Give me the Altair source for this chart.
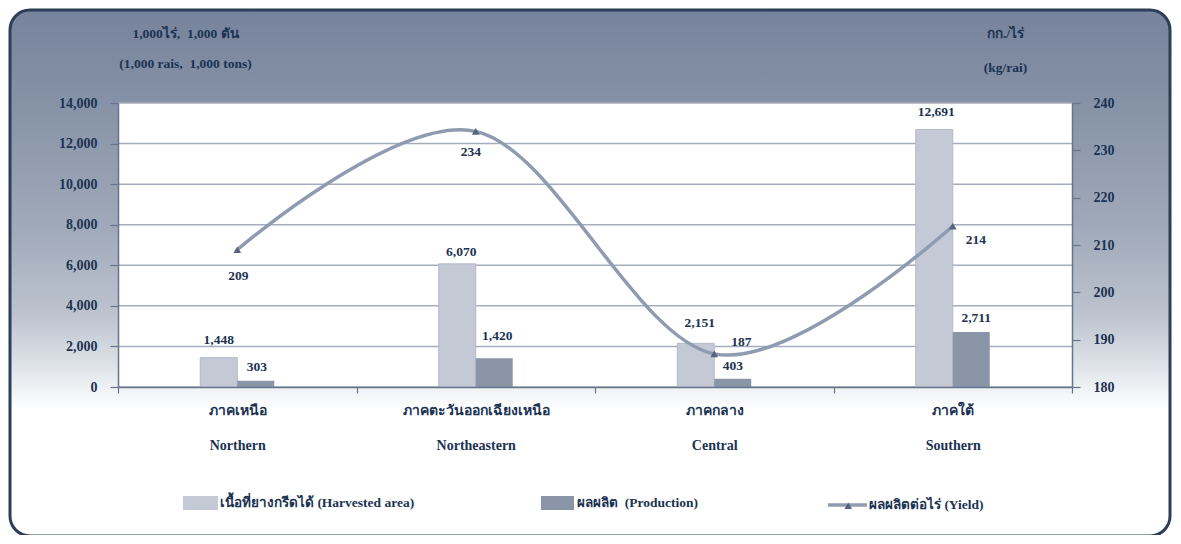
import altair as alt
import pandas as pd

# ---------------- data ----------------
regions_th = ["ภาคเหนือ", "ภาคตะวันออกเฉียงเหนือ", "ภาคกลาง", "ภาคใต้"]
regions_en = ["Northern", "Northeastern", "Central", "Southern"]
harvested_area = [1448, 6070, 2151, 12691]      # 1,000 rai
production = [303, 1420, 403, 2711]             # 1,000 tons
yield_kg = [209, 234, 187, 214]                 # kg/rai

left_ticks = [0, 2000, 4000, 6000, 8000, 10000, 12000, 14000]
right_ticks = [180, 190, 200, 210, 220, 230, 240]

NB = "\u00a0"
LEG_AREA = "เนื้อที่ยางกรีดได้ (Harvested area)"
LEG_PROD = f"ผลผลิต {NB}(Production)"
LEG_YIELD = "ผลผลิตต่อไร่ (Yield)"
LEFT_TITLE = [f"1,000ไร่, {NB}1,000 ตัน", f"(1,000 rais, {NB}1,000 tons)"]
RIGHT_TITLE = ["กก./ไร่", "(kg/rai)"]

# ---------------- styles ----------------
FONT = "Liberation Serif"
TXT = "#1b3352"
AX = "#66758c"
GRID = "#a5adbd"
C_AREA = "#c4c9d5"
C_AREA_EDGE = "#b3b9c7"
C_PROD = "#8a96a8"
C_LINE = "#8f9bb0"
C_MARK = "#55657c"
W, H = 954, 284
BAR_W = 37
# label nudges (pixels) relative to each bar top / point
area_nudge = [(0, -18), (4, -12), (4, -20), (2, -18)]
prod_nudge = [(1, -14), (3, -22), (0, -13), (5, -14)]
yield_nudge = [(1, 26), (-5, 21), (27, -12), (23, 14)]

keys = [f"{t}|{e}" for t, e in zip(regions_th, regions_en)]
df = pd.DataFrame({
    "idx": list(range(len(keys))),
    "region": keys,
    "area": harvested_area,
    "prod": production,
    "yld": yield_kg,
})
ticks_df = pd.DataFrame({"t": left_ticks})
one = pd.DataFrame({"k": [0]})

x_axis = alt.Axis(
    title=None, labelExpr="split(datum.label, '|')", labelAngle=0,
    labelFont=FONT, labelFontSize=14, labelFontWeight="bold", labelColor=TXT,
    labelLineHeight=35, labelPadding=10, labelBaseline="top",
    tickBand="extent", tickSize=6, tickColor=AX, tickWidth=1.2,
    domainColor=AX, domainWidth=1.5, grid=False, zindex=2,
)
X = alt.X("region:N", sort=keys,
          scale=alt.Scale(domain=keys, paddingInner=0, paddingOuter=0),
          axis=x_axis)

y_left_axis = alt.Axis(
    values=left_ticks, format=",d", title=LEFT_TITLE, titleAngle=0,
    titleX=67, titleY=-66, titleAlign="center", titleBaseline="alphabetic",
    titleLineHeight=30, titleFont=FONT, titleFontSize=13.5, titleFontWeight="bold",
    titleColor=TXT, labelFont=FONT, labelFontSize=14, labelFontWeight="bold",
    labelColor=TXT, labelPadding=13, tickSize=8, tickColor=AX, tickWidth=1.2,
    domainColor=AX, domainWidth=1.5, grid=False, zindex=2,
)
y_right_axis = alt.Axis(
    orient="right", values=right_ticks, format="d", title=RIGHT_TITLE, titleAngle=0,
    titleX=-67, titleY=-66, titleAlign="center", titleBaseline="alphabetic",
    titleLineHeight=34, titleFont=FONT, titleFontSize=13.5, titleFontWeight="bold",
    titleColor=TXT, labelFont=FONT, labelFontSize=14, labelFontWeight="bold",
    labelColor=TXT, labelPadding=13, tickSize=8, tickColor=AX, tickWidth=1.2,
    domainColor=AX, domainWidth=1.5, grid=False, zindex=2,
)
left_scale = alt.Scale(domain=[0, 14000], nice=False)
right_scale = alt.Scale(domain=[180, 240], nice=False)

leg_common = dict(
    orient="none", title=None, labelFont=FONT, labelFontSize=13.5,
    labelFontWeight="bold", labelColor=TXT, padding=0, labelLimit=400,
)

# ---------------- background frame ----------------
bg = alt.Chart(one).mark_rect(
    fill=alt.Gradient(
        gradient="linear", x1=0, y1=0, x2=0, y2=1,
        stops=[
            alt.GradientStop(offset=0.0, color="#76839b"),
            alt.GradientStop(offset=0.2, color="#8894a8"),
            alt.GradientStop(offset=0.42, color="#a1aaba"),
            alt.GradientStop(offset=0.58, color="#bdc4cf"),
            alt.GradientStop(offset=0.68, color="#e0e4ea"),
            alt.GradientStop(offset=0.76, color="#ffffff"),
            alt.GradientStop(offset=1.0, color="#ffffff"),
        ],
    ),
    stroke="#2d3f58", strokeWidth=3, cornerRadius=20,
).encode(
    x=alt.value(-108), x2=alt.value(1052), y=alt.value(-93), y2=alt.value(433)
)
plot_bg = alt.Chart(one).mark_rect(fill="white").encode(
    x=alt.value(0), x2=alt.value(W), y=alt.value(0), y2=alt.value(H)
)
grid = alt.Chart(ticks_df).mark_rule(color=GRID, strokeWidth=1.5).encode(
    y=alt.Y("t:Q", scale=left_scale, axis=y_left_axis)
)

# ---------------- bars ----------------
bars_area = alt.Chart(df).transform_calculate(s_area=f"'{LEG_AREA}'").mark_bar(
    size=BAR_W, xOffset=-BAR_W / 2, stroke=C_AREA_EDGE, strokeWidth=1
).encode(
    x=X,
    y=alt.Y("area:Q", scale=left_scale, axis=y_left_axis),
    fill=alt.Fill("s_area:N", scale=alt.Scale(domain=[LEG_AREA], range=[C_AREA]),
                  legend=alt.Legend(
                      **leg_common, legendX=65, legendY=382.5,
                      symbolType="M-1,-0.4L1,-0.4L1,0.4L-1,0.4Z", symbolSize=1225,
                      symbolFillColor=C_AREA, symbolStrokeWidth=0, labelOffset=2)),
)
bars_prod = alt.Chart(df).transform_calculate(s_prod=f"'{LEG_PROD}'").mark_bar(
    size=BAR_W, xOffset=BAR_W / 2
).encode(
    x=X,
    y=alt.Y("prod:Q", scale=left_scale, axis=y_left_axis),
    color=alt.Color("s_prod:N", scale=alt.Scale(domain=[LEG_PROD], range=[C_PROD]),
                    legend=alt.Legend(
                        **leg_common, legendX=423, legendY=383.5,
                        symbolType="M-1,-0.42L1,-0.42L1,0.42L-1,0.42Z", symbolSize=1089,
                        symbolFillColor=C_PROD, symbolStrokeWidth=0, labelOffset=3)),
)

txt_style = dict(font=FONT, fontSize=13.5, fontWeight="bold", color=TXT,
                 align="center", baseline="middle")
left_texts = []
for i in range(len(keys)):
    dx, dy = area_nudge[i]
    left_texts.append(
        alt.Chart(df).transform_filter(alt.datum.idx == i)
        .mark_text(dx=-BAR_W / 2 + dx, dy=dy, **txt_style)
        .encode(x=X, y=alt.Y("area:Q", scale=left_scale, axis=y_left_axis),
                text=alt.Text("area:Q", format=",d"))
    )
    dx, dy = prod_nudge[i]
    left_texts.append(
        alt.Chart(df).transform_filter(alt.datum.idx == i)
        .mark_text(dx=BAR_W / 2 + dx, dy=dy, **txt_style)
        .encode(x=X, y=alt.Y("prod:Q", scale=left_scale, axis=y_left_axis),
                text=alt.Text("prod:Q", format=",d"))
    )

left = alt.layer(bg, plot_bg, grid, bars_area, bars_prod, *left_texts)

# ---------------- yield line ----------------
Y_R = alt.Y("yld:Q", scale=right_scale, axis=y_right_axis)
line = alt.Chart(df).transform_calculate(s_line=f"'{LEG_YIELD}'").mark_line(
    interpolate="cardinal", strokeWidth=3.5
).encode(
    x=X, y=Y_R,
    stroke=alt.Stroke("s_line:N", scale=alt.Scale(domain=[LEG_YIELD], range=[C_LINE]),
                      legend=alt.Legend(
                          **leg_common, legendX=708, legendY=380.5,
                          symbolType="stroke", symbolSize=1521,
                          symbolStrokeColor=C_LINE, symbolStrokeWidth=3.5,
                          labelOffset=0)),
)
points = alt.Chart(df).transform_calculate(s_pt="'yield-marker'").mark_point(
    filled=True, size=60, color=C_MARK, opacity=1
).encode(
    x=X, y=Y_R,
    shape=alt.Shape("s_pt:N", scale=alt.Scale(domain=["yield-marker"], range=["triangle-up"]),
                    legend=alt.Legend(
                        **leg_common, legendX=723.5, legendY=396,
                        symbolSize=60, symbolFillColor=C_MARK,
                        symbolStrokeWidth=0, labelExpr="''")),
)
right_texts = []
for i in range(len(keys)):
    dx, dy = yield_nudge[i]
    right_texts.append(
        alt.Chart(df).transform_filter(alt.datum.idx == i)
        .mark_text(dx=dx, dy=dy, **txt_style)
        .encode(x=X, y=Y_R, text=alt.Text("yld:Q", format="d"))
    )
right = alt.layer(line, points, *right_texts)

chart = (
    alt.layer(left, right)
    .resolve_scale(y="independent")
    .properties(
        width=W, height=H,
        autosize=alt.AutoSizeParams(type="none"),
        padding={"left": 110, "top": 95, "right": 101, "bottom": 148},
        background="white",
    )
    .configure_view(stroke=None)
)

chart.save("out.html", embed_options={"renderer": "svg", "actions": False})
